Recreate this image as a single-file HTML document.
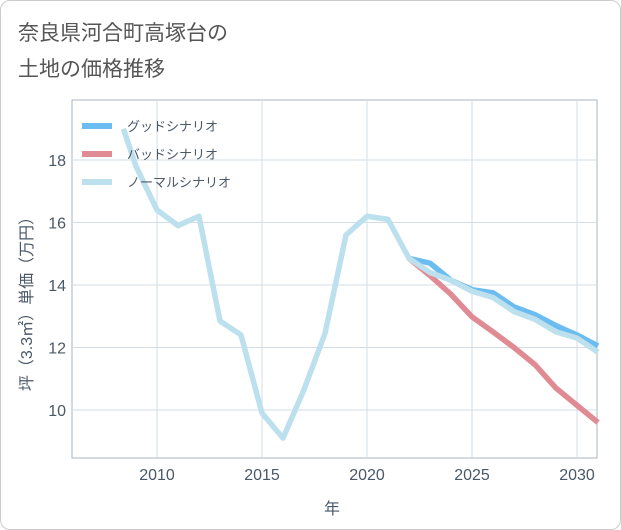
<!DOCTYPE html>
<html><head><meta charset="utf-8"><style>
body{margin:0;background:#fff;}
.card{position:absolute;left:0;top:0;width:619px;height:528px;border:1px solid #ccc;border-radius:10px;background:#fff;}
text{font-family:"Liberation Sans","Noto Sans CJK JP",sans-serif;}
</style></head><body>
<div class="card"></div>
<svg id="chart" width="621" height="530" style="position:absolute;left:0;top:0">
<text x="18" y="40" font-size="21" fill="#555">奈良県河合町高塚台の</text>
<text x="18" y="76" font-size="21" fill="#555">土地の価格推移</text>
<g id="grid"></g><g id="series"></g><g id="legend"></g>
<text x="332" y="514" font-size="16" fill="#4a5868" text-anchor="middle">年</text>
<text transform="translate(32,300) rotate(-90)" font-size="16" fill="#4a5868" text-anchor="middle">坪（3.3㎡）単価（万円）</text>
</svg>
<script>
const years=[2008.4,2009,2010,2011,2012,2013,2014,2015,2016,2017,2018,2019,2020,2021,2022,2023,2024,2025,2026,2027,2028,2029,2030,2031];
const normal=[19.0,17.8,16.4,15.9,16.2,12.85,12.4,9.9,9.1,10.65,12.45,15.6,16.2,16.1,14.85,14.4,14.15,13.8,13.6,13.15,12.9,12.5,12.3,11.85];
const fYears=[2022,2023,2024,2025,2026,2027,2028,2029,2030,2031];
const good=[14.85,14.7,14.15,13.85,13.75,13.3,13.05,12.7,12.4,12.05];
const bad=[14.85,14.3,13.7,12.98,12.5,12.0,11.45,10.7,10.15,9.6];
const xTicks=[2010,2015,2020,2025,2030];
const yTicks=[10,12,14,16,18];
const L=72,R=597,T=100,B=458;
const x=v=>157+(v-2010)*21;
const y=v=>160+(18-v)*31.25;
const ns='http://www.w3.org/2000/svg';
function mk(tag,at,parent){const e=document.createElementNS(ns,tag);for(const k in at)e.setAttribute(k,at[k]);document.getElementById(parent).appendChild(e);return e;}
let f=mk('rect',{x:L,y:T,width:R-L,height:B-T,fill:'none',stroke:'#aab4be','stroke-width':1},'grid');


xTicks.forEach(t=>{let l=mk('line',{x1:x(t),x2:x(t),y1:T,y2:B,stroke:'#d3dde6'},'grid');


let tx=mk('text',{x:x(t),y:B+22,'font-size':16,fill:'#4a5868','text-anchor':'middle'},'grid');tx.textContent=t;

});
yTicks.forEach(t=>{let l=mk('line',{x1:L,x2:R,y1:y(t),y2:y(t),stroke:'#d3dde6'},'grid');


let tx=mk('text',{x:L-6,y:y(t)+6,'font-size':16,fill:'#4a5868','text-anchor':'end'},'grid');tx.textContent=t;

});
function line(xs,vs,c,name){let p=mk('polyline',{points:xs.map((v,i)=>x(v)+','+y(vs[i])).join(' '),fill:'none',stroke:c,'stroke-width':5.5,'stroke-linejoin':'round'},'series');

}
line(fYears,good,'#6bbcf0','good-scenario-line');
line(fYears,bad,'#e08b93','bad-scenario-line');
line(years,normal,'#bde0ee','normal-scenario-line');
const legendLabels=['グッドシナリオ','バッドシナリオ','ノーマルシナリオ'];
const legendColors=['#6bbcf0','#e08b93','#bde0ee'];
legendLabels.forEach((s,i)=>{let yy=126+i*28;
let r=mk('rect',{x:82,y:yy-3,width:30,height:6,fill:legendColors[i]},'legend');


let t=mk('text',{x:127,y:yy+5,'font-size':13,fill:'#4a5868'},'legend');t.textContent=s;

});
</script>
</body></html>
